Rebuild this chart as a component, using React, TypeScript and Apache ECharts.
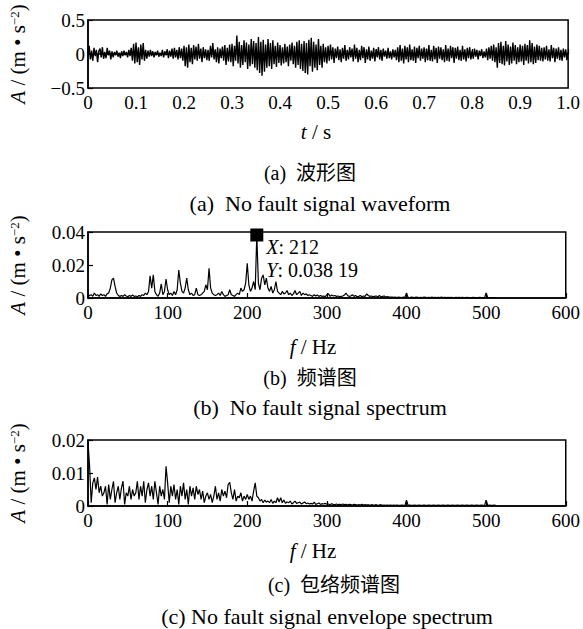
import React, { useEffect, useRef } from "react";
import * as echarts from "echarts";

// ---------- data ----------
// (a) waveform, sampled every waveStep seconds from 0 to 1 s (m/s^2)
const waveStep = 0.0025;
const waveAmp = [
  0.02, 0.12, -0.08, 0.05, -0.1, 0.09, -0.03, 0.06, -0.12, 0.04, 0.08, -0.05, 0.1, -0.07, 0.03, -0.06, 0.09, -0.02, 0.05, -0.08,
  0.04, -0.05, 0.03, -0.02, 0.05, -0.04, 0.02, -0.06, 0.04, -0.03, 0.05, -0.02, 0.03, -0.05, 0.06, -0.03, 0.09, -0.1, 0.15, -0.14,
  0.17, -0.12, 0.1, -0.16, 0.14, -0.08, 0.16, -0.1, 0.06, -0.07, 0.05, -0.04, 0.06, -0.03, 0.04, -0.05, 0.03, -0.02, 0.05, -0.04,
  0.02, -0.03, 0.06, -0.05, 0.04, -0.02, 0.07, -0.06, 0.05, -0.04, 0.08, -0.07, 0.09, -0.05, 0.06, -0.08, 0.1, -0.06, 0.08, -0.1,
  0.12, -0.18, 0.1, -0.2, 0.14, -0.12, 0.09, -0.15, 0.13, -0.08, 0.11, -0.1, 0.15, -0.07, 0.08, -0.12, 0.1, -0.06, 0.07, -0.09,
  0.06, -0.1, 0.12, -0.05, 0.16, -0.08, 0.07, -0.12, 0.1, -0.14, 0.08, -0.06, 0.11, -0.1, 0.13, -0.16, 0.09, -0.11, 0.14, -0.12,
  0.15, -0.18, 0.12, -0.1, 0.27, -0.14, 0.18, -0.2, 0.13, -0.16, 0.2, -0.12, 0.17, -0.22, 0.14, -0.18, 0.22, -0.15, 0.19, -0.2,
  0.16, -0.24, 0.25, -0.28, 0.18, -0.32, 0.21, -0.26, 0.14, -0.2, 0.22, -0.18, 0.16, -0.22, 0.2, -0.15, 0.12, -0.19, 0.17, -0.13,
  0.13, -0.17, 0.1, -0.14, 0.15, -0.12, 0.11, -0.18, 0.14, -0.1, 0.17, -0.15, 0.12, -0.2, 0.18, -0.16, 0.2, -0.22, 0.15, -0.25,
  0.19, -0.28, 0.16, -0.3, 0.21, -0.18, 0.24, -0.26, 0.18, -0.2, 0.14, -0.24, 0.22, -0.16, 0.12, -0.2, 0.15, -0.12, 0.1, -0.14,
  0.12, -0.1, 0.14, -0.08, 0.1, -0.13, 0.08, -0.06, 0.11, -0.09, 0.07, -0.12, 0.09, -0.07, 0.13, -0.1, 0.06, -0.08, 0.1, -0.05,
  0.08, -0.11, 0.14, -0.07, 0.09, -0.12, 0.06, -0.09, 0.12, -0.06, 0.1, -0.13, 0.07, -0.08, 0.11, -0.1, 0.05, -0.07, 0.09, -0.11,
  0.07, -0.05, 0.1, -0.08, 0.06, -0.1, 0.08, -0.04, 0.05, -0.07, 0.09, -0.06, 0.04, -0.08, 0.07, -0.05, 0.06, -0.09, 0.1, -0.12,
  0.13, -0.1, 0.08, -0.14, 0.12, -0.08, 0.1, -0.12, 0.14, -0.09, 0.07, -0.1, 0.11, -0.13, 0.09, -0.06, 0.12, -0.1, 0.08, -0.07,
  0.1, -0.12, 0.08, -0.09, 0.13, -0.1, 0.06, -0.11, 0.12, -0.08, 0.09, -0.13, 0.11, -0.07, 0.1, -0.09, 0.07, -0.12, 0.13, -0.1,
  0.08, -0.11, 0.12, -0.06, 0.1, -0.13, 0.09, -0.07, 0.11, -0.09, 0.06, -0.1, 0.12, -0.08, 0.07, -0.11, 0.09, -0.06, 0.1, -0.08,
  0.05, -0.07, 0.08, -0.04, 0.06, -0.08, 0.05, -0.03, 0.07, -0.06, 0.04, -0.05, 0.08, -0.09, 0.1, -0.07, 0.12, -0.1, 0.14, -0.12,
  0.1, -0.2, 0.16, -0.13, 0.18, -0.15, 0.12, -0.17, 0.19, -0.11, 0.14, -0.16, 0.11, -0.14, 0.17, -0.1, 0.13, -0.15, 0.1, -0.12,
  0.14, -0.11, 0.12, -0.16, 0.15, -0.1, 0.13, -0.14, 0.2, -0.12, 0.16, -0.15, 0.11, -0.13, 0.14, -0.09, 0.12, -0.1, 0.09, -0.11,
  0.1, -0.08, 0.12, -0.1, 0.07, -0.11, 0.13, -0.06, 0.09, -0.12, 0.08, -0.07, 0.1, -0.09, 0.06, -0.1, 0.08, -0.05, 0.07, -0.09,
  0.03,
];

// (b) spectrum, one value every specStep Hz from 0 to 512 Hz (m/s^2)
const specStep = 2;
const spectrumAmp = [
  0.001, 0.0015, 0.002, 0.001, 0.003, 0.0015, 0.002, 0.001, 0.0025, 0.0015,
  0.002, 0.001, 0.0025, 0.003, 0.006, 0.011, 0.012, 0.007, 0.003, 0.0015,
  0.001, 0.0015, 0.001, 0.002, 0.0012, 0.0008, 0.0015, 0.001, 0.0018, 0.001,
  0.0012, 0.0008, 0.0015, 0.001, 0.002, 0.0015, 0.003, 0.002, 0.004, 0.0135,
  0.006, 0.014, 0.004, 0.002, 0.001, 0.003, 0.0085, 0.002, 0.004, 0.0115,
  0.005, 0.002, 0.003, 0.0015, 0.004, 0.002, 0.005, 0.017, 0.009, 0.004,
  0.003, 0.006, 0.012, 0.005, 0.002, 0.003, 0.0015, 0.002, 0.006, 0.002,
  0.0015, 0.002, 0.003, 0.004, 0.008, 0.005, 0.018, 0.006, 0.003, 0.002,
  0.0015, 0.002, 0.003, 0.0015, 0.004, 0.002, 0.001, 0.0015, 0.002, 0.005,
  0.002, 0.0015, 0.001, 0.002, 0.003, 0.002, 0.006, 0.004, 0.005, 0.009,
  0.021, 0.008, 0.004, 0.006, 0.01, 0.005, 0.03819, 0.009, 0.005, 0.012,
  0.014, 0.008, 0.012, 0.006, 0.004, 0.007, 0.003, 0.005, 0.01, 0.004,
  0.003, 0.002, 0.004, 0.0025, 0.003, 0.0045, 0.002, 0.003, 0.0015, 0.0025,
  0.0045, 0.002, 0.003, 0.004, 0.0015, 0.003, 0.002, 0.0025, 0.0015, 0.002,
  0.0015, 0.001, 0.002, 0.0012, 0.0018, 0.001, 0.0015, 0.001, 0.0012, 0.0008,
  0.002, 0.0025, 0.001, 0.0018, 0.0012, 0.0015, 0.001, 0.0012, 0.0008, 0.001,
  0.0012, 0.0018, 0.003, 0.0015, 0.001, 0.0012, 0.002, 0.001, 0.0015, 0.0008,
  0.001, 0.0015, 0.0008, 0.0012, 0.001, 0.0025, 0.0015, 0.001, 0.0012, 0.0008,
  0.001, 0.0012, 0.0008, 0.0015, 0.0007, 0.001, 0.0012, 0.0006, 0.0008, 0.0005,
  0.0005, 0.0006, 0.0004, 0.0005, 0.0003, 0.0005, 0.0004, 0.0003, 0.0005, 0.0004,
  0.003, 0.0004, 0.0003, 0.0005, 0.0004, 0.0003, 0.0005, 0.0004, 0.0003, 0.0004,
  0.0003, 0.0005, 0.0004, 0.0003, 0.0004, 0.0003, 0.0005, 0.0003, 0.0004, 0.0003,
  0.0004, 0.0003, 0.0005, 0.0003, 0.0004, 0.0002, 0.0004, 0.0003, 0.0004, 0.0003,
  0.0003, 0.0004, 0.0002, 0.0004, 0.0003, 0.0004, 0.0002, 0.0003, 0.0004, 0.0003,
  0.0003, 0.0002, 0.0004, 0.0003, 0.0002, 0.0003, 0.0004, 0.0002, 0.0003, 0.0002,
  0.003, 0.0003, 0.0002, 0.0003, 0.0002, 0.0003, 0.0002,
];

// (c) envelope spectrum, one value every specStep Hz from 0 to 512 Hz (m/s^2)
const envelopeAmp = [
  0.0195, 0.012, 0.001, 0.007, 0.0085, 0.005, 0.0088, 0.004, 0.006, 0.003,
  0.004, 0.006, 0.0005, 0.0065, 0.002, 0.005, 0.0075, 0.001, 0.004, 0.006,
  0.002, 0.0055, 0.0075, 0.0005, 0.004, 0.003, 0.006, 0.002, 0.005, 0.003,
  0.004, 0.0075, 0.002, 0.006, 0.003, 0.0075, 0.001, 0.005, 0.007, 0.003,
  0.006, 0.002, 0.0075, 0.004, 0.0005, 0.006, 0.003, 0.005, 0.002, 0.012,
  0.007, 0.001, 0.006, 0.003, 0.0065, 0.002, 0.005, 0.0005, 0.006, 0.003,
  0.007, 0.002, 0.005, 0.0005, 0.006, 0.003, 0.0055, 0.002, 0.006, 0.0035,
  0.005, 0.002, 0.0045, 0.001, 0.003, 0.004, 0.002, 0.0035, 0.001, 0.003,
  0.006, 0.002, 0.004, 0.0015, 0.005, 0.003, 0.0045, 0.0025, 0.0065, 0.0072,
  0.004, 0.002, 0.005, 0.0015, 0.003, 0.0025, 0.004, 0.0015, 0.003, 0.002,
  0.0035, 0.002, 0.003, 0.0015, 0.0045, 0.007, 0.003, 0.0025, 0.0015, 0.002,
  0.001, 0.0018, 0.0012, 0.0015, 0.001, 0.002, 0.0008, 0.0015, 0.001, 0.0025,
  0.0012, 0.0025, 0.001, 0.0018, 0.0008, 0.0012, 0.001, 0.0015, 0.0006, 0.001,
  0.0015, 0.0008, 0.001, 0.0012, 0.0006, 0.0009, 0.0012, 0.0007, 0.0009, 0.0006,
  0.0008, 0.0006, 0.0012, 0.0005, 0.0007, 0.0009, 0.0005, 0.0007, 0.0006, 0.0008,
  0.0005, 0.0006, 0.0004, 0.0007, 0.0005, 0.0004, 0.0006, 0.0004, 0.0005, 0.0004,
  0.0006, 0.0004, 0.0005, 0.0003, 0.0005, 0.0004, 0.0003, 0.0005, 0.0004, 0.0003,
  0.0004, 0.0003, 0.0005, 0.0003, 0.0004, 0.0003, 0.0004, 0.0002, 0.0004, 0.0003,
  0.0003, 0.0004, 0.0002, 0.0003, 0.0004, 0.0002, 0.0003, 0.0002, 0.0003, 0.0002,
  0.0003, 0.0002, 0.0003, 0.0002, 0.0003, 0.0002, 0.0002, 0.0003, 0.0002, 0.0002,
  0.0018, 0.0002, 0.0003, 0.0002, 0.0002, 0.0003, 0.0002, 0.0002, 0.0003, 0.0002,
  0.0002, 0.0003, 0.0002, 0.0002, 0.0003, 0.0002, 0.0002, 0.0003, 0.0002, 0.0002,
  0.0003, 0.0002, 0.0002, 0.0003, 0.0002, 0.0002, 0.0003, 0.0002, 0.0002, 0.0003,
  0.0002, 0.0002, 0.0003, 0.0002, 0.0002, 0.0003, 0.0002, 0.0002, 0.0003, 0.0002,
  0.0002, 0.0003, 0.0002, 0.0002, 0.0003, 0.0002, 0.0002, 0.0003, 0.0002, 0.0002,
  0.0018, 0.0002, 0.0003, 0.0002, 0.0002, 0.0003, 0.0002,
];

// peak annotation in (b)
const peakFreq = 212;
const peakAmp = 0.03819;
const peakLabel = ["212", "0.038 19"];

// axis texts
const yAxisTitle = "{i|A} / (m • s{sup|−2})";
const xTitleA = "{i|t} / s";
const xTitleF = "{i|f} / Hz";
const captionsCn = ["(a)  波形图", "(b)  频谱图", "(c)  包络频谱图"];
const captionsEn = [
  "(a)  No fault signal waveform",
  "(b)  No fault signal spectrum",
  "(c) No fault signal envelope spectrum",
];

const FONT = "'Liberation Serif', 'Times New Roman', 'Noto Sans CJK SC', serif";
const TICK_FS = 19;
const TITLE_FS = 21;
const EN_FS = 22;
const NOTE_FS = 20;

export default function App() {
  const ref = useRef<HTMLDivElement>(null);

  useEffect(() => {
    if (!ref.current) return;
    const chart = echarts.init(ref.current, undefined, { renderer: "svg" });

    const grids = [
      { top: 20, height: 68 },
      { top: 232, height: 66 },
      { top: 440, height: 66 },
    ].map((g) => ({
      left: 88,
      width: 483,
      top: g.top,
      height: g.height,
      show: true,
      borderColor: "#000",
      borderWidth: 1.5,
      containLabel: false,
    }));

    const axisCommon = {
      axisLine: { show: true, lineStyle: { color: "#000", width: 1.5 } },
      axisTick: { show: true, inside: true, length: 5, lineStyle: { color: "#000", width: 1.2 } },
      splitLine: { show: false },
    };

    const xLabel = (fmt: (v: number) => string) => ({
      color: "#000",
      fontSize: TICK_FS,
      fontFamily: FONT,
      margin: 5,
      formatter: fmt,
      showMinLabel: true,
      showMaxLabel: true,
    });
    const yLabel = (fmt: (v: number) => string) => ({
      color: "#000",
      fontSize: TICK_FS,
      fontFamily: FONT,
      margin: 3,
      formatter: fmt,
      showMinLabel: true,
      showMaxLabel: true,
    });

    const fmtSec = (v: number) => (v === 0 ? "0" : v.toFixed(1));
    const fmtInt = (v: number) => String(Math.round(v));
    const fmtSmall = (v: number) => (v === 0 ? "0" : String(+v.toFixed(3)));
    const fmtSigned = (v: number) => (v === 0 ? "0" : String(v).replace("-", "−"));

    const waveData = waveAmp.map((a, i) => [i * waveStep, a]);
    const specData = spectrumAmp.map((a, i) => [i * specStep, a]);
    const envData = envelopeAmp.map((a, i) => [i * specStep, a]);

    const lineSeries = (data: number[][], idx: number, w: number) => ({
      type: "line",
      xAxisIndex: idx,
      yAxisIndex: idx,
      data,
      showSymbol: false,
      symbol: "none",
      lineStyle: { color: "#000", width: w },
      silent: true,
    });

    const richFor = (fs: number) => ({
      i: { fontStyle: "italic", fontFamily: FONT, fontSize: fs, fill: "#000" },
      sup: { fontFamily: FONT, fontSize: Math.round(fs * 0.6), verticalAlign: "top", fill: "#000" },
    });

    const yTitle = (cy: number) => ({
      type: "text",
      x: 18,
      y: cy,
      rotation: Math.PI / 2,
      style: {
        text: yAxisTitle,
        fontFamily: FONT,
        fontSize: TITLE_FS,
        fill: "#000",
        align: "center",
        verticalAlign: "middle",
        rich: richFor(TITLE_FS),
      },
    });
    const centerText = (text: string, cx: number, cy: number, fs: number) => ({
      type: "text",
      x: cx,
      y: cy,
      style: {
        text,
        fontFamily: FONT,
        fontSize: fs,
        fill: "#000",
        align: "center",
        verticalAlign: "middle",
        rich: richFor(fs),
      },
    });

    chart.setOption({
      animation: false,
      backgroundColor: "#fff",
      grid: grids,
      xAxis: [
        { type: "value", gridIndex: 0, min: 0, max: 1, interval: 0.1, ...axisCommon, axisLabel: xLabel(fmtSec) },
        { type: "value", gridIndex: 1, min: 0, max: 600, interval: 100, ...axisCommon, axisLabel: xLabel(fmtInt) },
        { type: "value", gridIndex: 2, min: 0, max: 600, interval: 100, ...axisCommon, axisLabel: xLabel(fmtInt) },
      ],
      yAxis: [
        { type: "value", gridIndex: 0, min: -0.5, max: 0.5, interval: 0.5, ...axisCommon, axisLabel: yLabel(fmtSigned) },
        { type: "value", gridIndex: 1, min: 0, max: 0.04, interval: 0.02, ...axisCommon, axisLabel: yLabel(fmtSmall) },
        { type: "value", gridIndex: 2, min: 0, max: 0.02, interval: 0.01, ...axisCommon, axisLabel: yLabel(fmtSmall) },
      ],
      series: [
        lineSeries(waveData, 0, 1.4),
        lineSeries(specData, 1, 1.2),
        lineSeries(envData, 2, 1.2),
        {
          type: "scatter",
          xAxisIndex: 1,
          yAxisIndex: 1,
          data: [[peakFreq, peakAmp]],
          symbol: "rect",
          symbolSize: 13,
          itemStyle: { color: "#000", opacity: 1 },
          z: 10,
          silent: true,
          label: {
            show: true,
            position: [16, 7],
            align: "left",
            verticalAlign: "top",
            fontFamily: FONT,
            fontSize: NOTE_FS,
            lineHeight: 23,
            color: "#000",
            opacity: 1,
            formatter: `{i|X}: ${peakLabel[0]}\n{i|Y}: ${peakLabel[1]}`,
            rich: {
              i: { fontStyle: "italic", fontFamily: FONT, fontSize: NOTE_FS, color: "#000", lineHeight: 23 },
            },
          },
        },
      ],
      graphic: [
        yTitle(54),
        yTitle(265),
        yTitle(473),
        centerText(xTitleA, 316, 132, TITLE_FS),
        centerText(captionsCn[0], 310, 173, 20),
        centerText(captionsEn[0], 320, 203, EN_FS),
        centerText(xTitleF, 313, 347, TITLE_FS),
        centerText(captionsCn[1], 310, 378, 20),
        centerText(captionsEn[1], 320, 407, EN_FS),
        centerText(xTitleF, 313, 551, TITLE_FS),
        centerText(captionsCn[2], 334, 585, 20),
        centerText(captionsEn[2], 327, 616, EN_FS),
      ],
    });

    return () => chart.dispose();
  }, []);

  return (
    <div
      ref={ref}
      style={{ position: "absolute", left: 0, top: 0, width: 583, height: 629, background: "#fff" }}
    />
  );
}
